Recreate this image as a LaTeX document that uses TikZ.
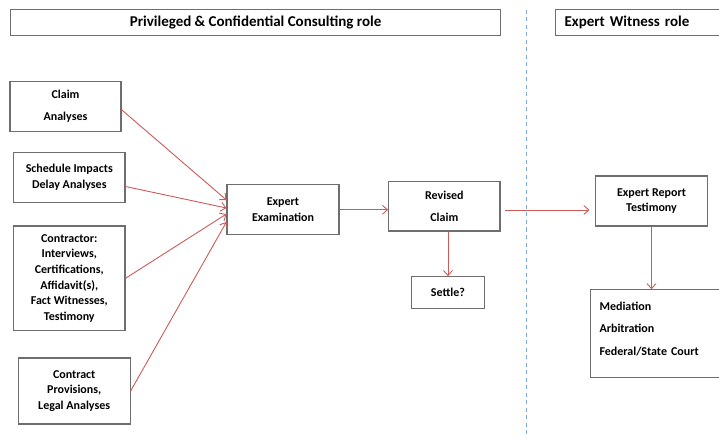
\documentclass[tikz,border=0pt]{standalone}
\usepackage{fontspec}
\setmainfont{Carlito}
\usetikzlibrary{arrows.meta}
\definecolor{linkred}{RGB}{205,90,88}
\definecolor{boxgray}{RGB}{110,110,110}
\definecolor{splitblue}{RGB}{125,170,222}
\begin{document}
\begin{tikzpicture}[x=1pt,y=-1pt,
    box/.style={draw=boxgray, line width=1.1pt, align=center, inner sep=2pt,
      font=\fontsize{12}{15.7}\selectfont\bfseries},
    rolebox/.style={box, font=\fontsize{15}{18}\selectfont\bfseries},
    link/.style={draw=linkred, line width=0.9pt, -{Straight Barb[length=5pt,width=9pt]}}]
  \useasboundingbox (0,0) rectangle (719,438);
  \clip (0,0) rectangle (719,438);
  % split between the two roles
  \draw[splitblue, line width=1.2pt, dash pattern=on 4pt off 3.5pt] (526.7,10) -- (526.7,438);
  \draw
    (10,8.7) node[rolebox, anchor=north west, minimum width=490, minimum height=26.3] (cons){Privileged \& Confidential Consulting role}
    (555,9.3) node[rolebox, anchor=north west, minimum height=25.7, text width=180, align=left, inner xsep=9] (wit){Expert Witness role}
    (65.5,106.7) node[box, minimum width=111, minimum height=50] (claim){Claim\\[6.3pt]Analyses}
    (69.3,177.5) node[box, minimum width=111.3, minimum height=49.6] (sched){Schedule Impacts\\Delay Analyses}
    (69.3,278.3) node[box, minimum width=111.3, minimum height=104.7] (contr){Contractor:\\Interviews,\\Certifications,\\Affidavit(s),\\Fact Witnesses,\\Testimony}
    (74.2,391) node[box, minimum width=111.7, minimum height=66] (prov){Contract\\Provisions,\\Legal Analyses}
    (283,209.8) node[box, minimum width=112, minimum height=49.7] (exam){Expert\\Examination}
    (444.3,206.3) node[box, minimum width=111.3, minimum height=49.3] (rev){Revised\\[6.3pt]Claim}
    (448,292.5) node[box, minimum width=72.6, minimum height=31.6] (settle){Settle?}
    (651.5,201) node[box, minimum width=111.6, minimum height=50] (rep){Expert Report\\Testimony}
    (590,289.3) node[box, anchor=north west, minimum height=87.4, text width=150, align=left, inner xsep=9] (forum){Mediation\\[6.6pt]Arbitration\\[6.6pt]Federal/State Court\\[-6pt]\mbox{}};
  \begin{scope}[link]
    \draw ([yshift=-3pt]claim.east) to ([yshift=9.8pt]exam.west);
    \draw ([yshift=-9pt]sched.east) to ([yshift=1.8pt]exam.west);
    \draw (contr.east) to ([yshift=-4.2pt]exam.west);
    \draw (prov.east) to ([yshift=-12.2pt]exam.west);
    \draw (exam.east) to (rev.west |- exam.east);
    \draw (settle.north |- rev.south) to (settle.north);
    \draw ([xshift=4pt,yshift=-3.7pt]rev.east) coordinate (gap) to ([xshift=-5.7pt]rep.west |- gap);
    \draw (rep.south) to (rep.south |- forum.north);
  \end{scope}
\end{tikzpicture}
\end{document}
